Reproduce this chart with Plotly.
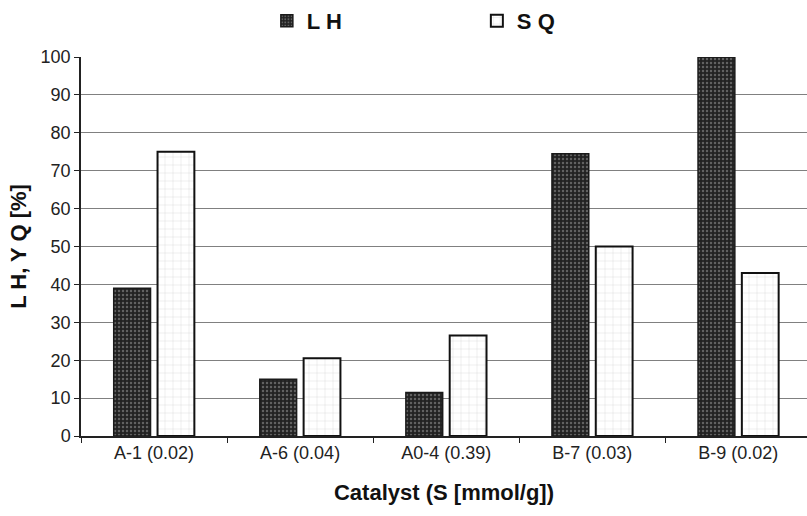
import plotly.graph_objects as go

categories = ["A-1 (0.02)", "A-6 (0.04)", "A0-4 (0.39)", "B-7 (0.03)", "B-9 (0.02)"]
lh_values = [39, 15, 11.5, 74.5, 100]
sq_values = [75, 20.5, 26.5, 50, 43]
y_ticks = list(range(0, 101, 10))

fig = go.Figure()
fig.add_trace(go.Bar(
    x=categories, y=lh_values, name="L H",
    marker=dict(color="#222222", line=dict(color="#1a1a1a", width=1.5),
                pattern=dict(shape=".", fgcolor="#a0a0a0", bgcolor="#222222", size=4, solidity=0.3)),
))
fig.add_trace(go.Bar(
    x=categories, y=sq_values, name="S Q",
    marker=dict(color="white", line=dict(color="#111111", width=2),
                pattern=dict(shape="+", fgcolor="#a8a8a8", bgcolor="white", size=8, solidity=0.1)),
))

font = "Liberation Sans, Arial, sans-serif"
fig.update_layout(
    width=807, height=516,
    margin=dict(l=81, r=0, t=56, b=80),
    plot_bgcolor="white", paper_bgcolor="white",
    barmode="group", bargap=0.40, bargroupgap=0.16,
    font=dict(family=font, size=17, color="#222"),
    legend=dict(orientation="h", x=0.256, y=1.095, xanchor="left", yanchor="middle",
                entrywidth=165, entrywidthmode="pixels",
                font=dict(size=22, family=font, color="#111", weight="bold"),
                itemwidth=30),
    xaxis=dict(range=[-0.5, 4.47], showline=True, linecolor="#222", linewidth=1.5,
               ticks="outside", ticklen=5, tickcolor="#222", tickson="boundaries",
               showgrid=False, tickfont=dict(size=18),
               title=dict(text="<b>Catalyst (S [mmol/g])</b>", font=dict(size=22, family=font, color="#111"), standoff=22)),
    yaxis=dict(range=[0, 100], tickvals=y_ticks, showline=True, linecolor="#222", linewidth=1.5,
               ticks="outside", ticklen=5, tickcolor="#222", tickfont=dict(size=18),
               showgrid=True, gridcolor="#808080", gridwidth=1,
               title=dict(text="<b>L H, Y Q [%]</b>", font=dict(size=22, family=font, color="#111"), standoff=8)),
)
fig.write_html("out.html")
